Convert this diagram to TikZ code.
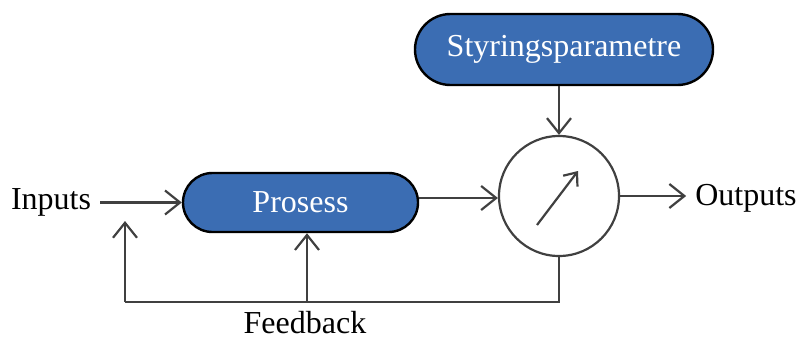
\documentclass[tikz,border=0pt]{standalone}
\usepackage{fontspec}
\setmainfont{Liberation Serif}
\usetikzlibrary{arrows.meta}
\definecolor{boxblue}{HTML}{3B6DB3}
\definecolor{linegray}{HTML}{404040}
\begin{document}
\begin{tikzpicture}[x=1pt,y=-1pt,
  pill/.style={draw=black, line width=2.4pt, fill=boxblue, text=white,
    inner sep=0pt, font=\fontsize{32}{38}\selectfont},
  lbl/.style={inner sep=0pt, font=\fontsize{32}{38}\selectfont, text=black},
  flow/.style={draw=linegray, line width=2.2pt,
    -{Straight Barb[length=15pt,width=24pt,line width=2.2pt]}},
  wire/.style={draw=linegray, line width=2.2pt}]
\useasboundingbox (0,0) rectangle (798,340);

% blocks
\node[pill, minimum width=235pt, minimum height=59pt, rounded corners=29.5pt]
  (prosess) at (300.5,202.5) {Prosess};
\node[pill, minimum width=298pt, minimum height=71pt, rounded corners=35.5pt]
  (styr) at (564,49.5) {Styringsparametre};
\node[circle, draw=linegray, line width=2.2pt, minimum size=120pt, inner sep=0pt]
  (gauge) at (559,196) {};

% labels
\node[lbl, anchor=base] (inputs) at (51,209) {Inputs};
\node[lbl, anchor=base] (outputs) at (746,205) {Outputs};
\node[lbl, anchor=base] (feedback) at (305,333) {Feedback};

% needle inside the gauge
\coordinate (needleA) at (537,225);
\coordinate (needleB) at (578,171);
\draw[draw=linegray, line width=2.2pt,
  -{Straight Barb[length=11pt,width=18pt,line width=2.2pt]}] (needleA) -- (needleB);

% main flow
\draw[flow] ([xshift=9pt]inputs.east |- prosess.west) -- (prosess.west);
\draw[flow] (prosess.east |- 0,198) -- (gauge.west |- 0,198);
\draw[flow] (styr.south -| gauge.north) -- (gauge.north);
\draw[flow] (gauge.east) -- ([xshift=-9pt]outputs.west |- gauge.east);

% feedback loop
\coordinate (fbR) at (559,302);
\coordinate (fbL) at (125,302);
\coordinate (fbUp) at (125,221);
\coordinate (fbMid) at (307,302);
\draw[wire] (gauge.south) -- (fbR) -- (fbL);
\draw[flow] (fbL) -- (fbUp);
\draw[flow] (fbMid) -- (fbMid |- prosess.south);
\end{tikzpicture}
\end{document}
